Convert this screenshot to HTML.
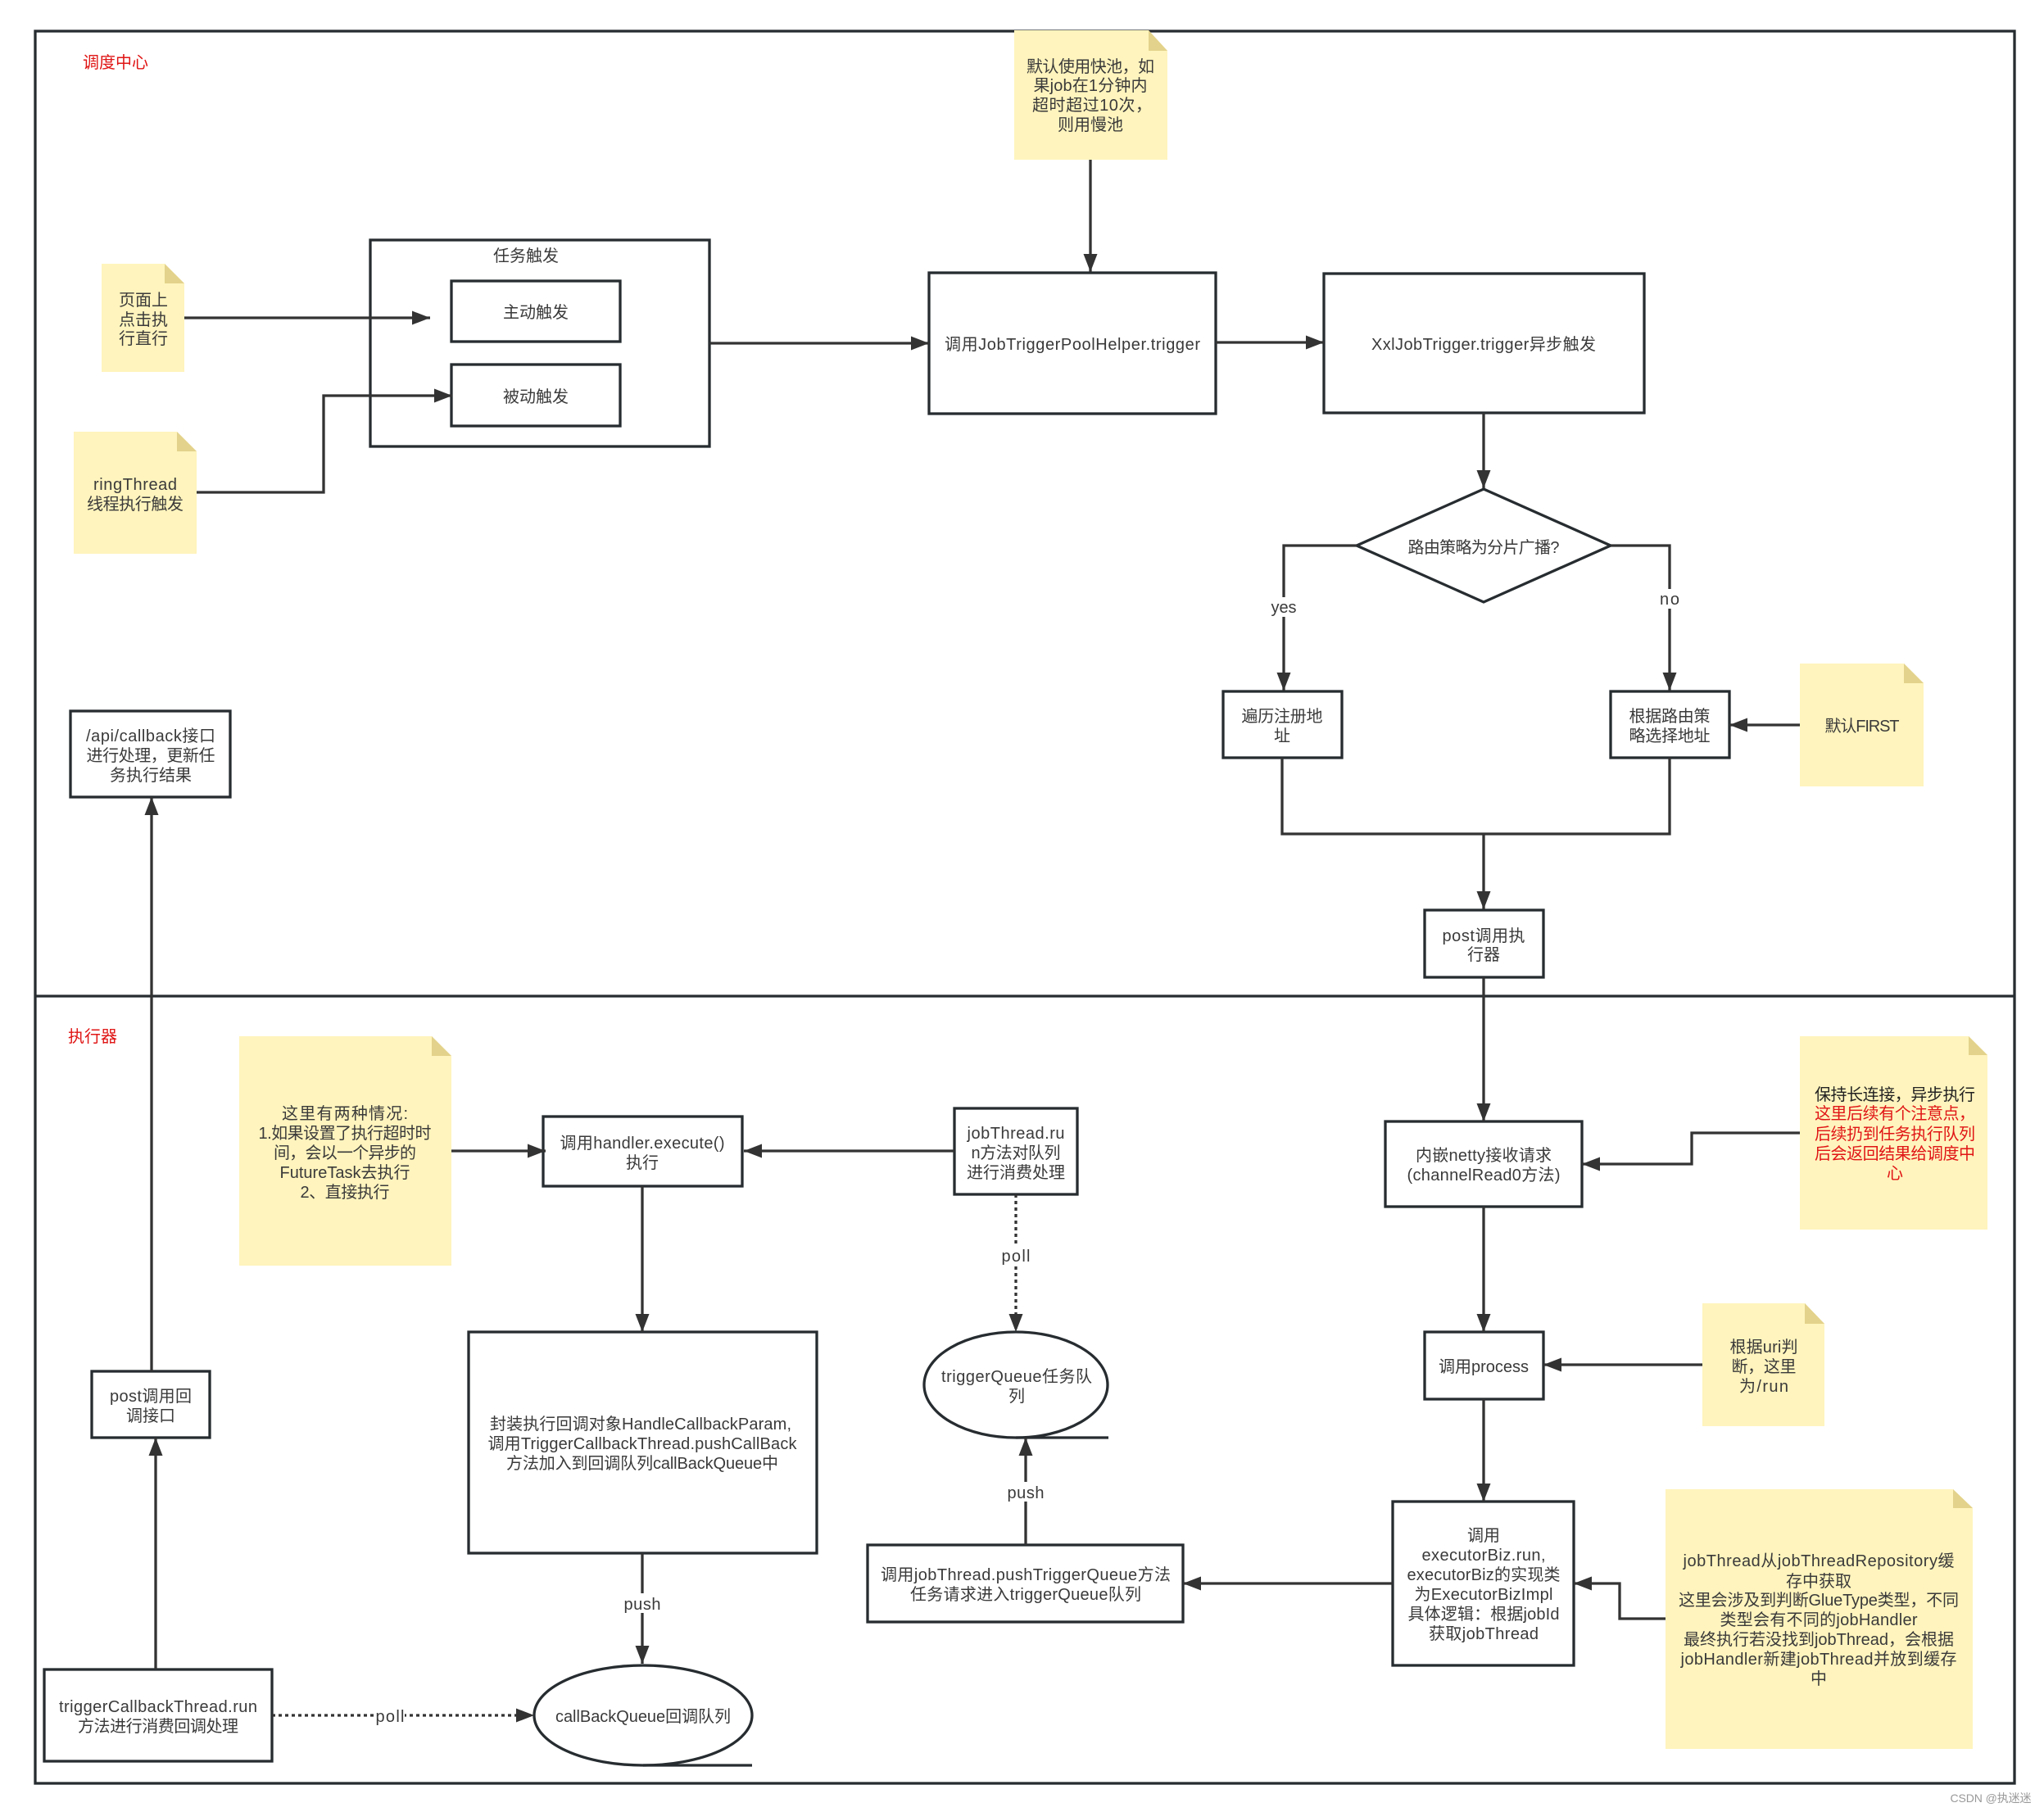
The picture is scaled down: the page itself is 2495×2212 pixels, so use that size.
<!DOCTYPE html>
<html><head><meta charset="utf-8"><style>
html,body{margin:0;padding:0;background:#fff}
svg{display:block}
text{font-family:"Liberation Sans","Noto Sans CJK SC",sans-serif;font-size:20px;fill:#3a3a3a;text-anchor:middle}
.b{fill:#fff;stroke:#262c30;stroke-width:3.3}
.n{fill:none;stroke:#262c30;stroke-width:3.3}
.c{fill:none;stroke:#333;stroke-width:3.3;marker-end:url(#a)}
.l{fill:none;stroke:#333;stroke-width:3.3}
.d{stroke-dasharray:4 4}
.note{fill:#fff4bd}
.fold{fill:#e3d28b}
.r{fill:#e01515}
.lb{fill:#fff}
</style></head><body>
<svg width="2495" height="2212" viewBox="0 0 2495 2212" xmlns="http://www.w3.org/2000/svg">
<defs><marker id="a" markerUnits="userSpaceOnUse" markerWidth="24" markerHeight="18" refX="22" refY="8.5" orient="auto"><path d="M0 0L22 8.5L0 17z" fill="#333"/></marker></defs>
<rect width="2495" height="2212" fill="#fff"/>

<rect class="n" x="43" y="38" width="2416" height="2139"/>
<path class="n" d="M43 1216H2459"/>

<!-- notes -->
<path class="note" d="M124 322H201L225 346V454H124z"/><path class="fold" d="M201 322L225 346H201z"/>
<path class="note" d="M90 527H216L240 551V676H90z"/><path class="fold" d="M216 527L240 551H216z"/>
<path class="note" d="M1238 37H1402L1425 62V195H1238z"/><path class="fold" d="M1402 37L1425 62H1402z"/>
<path class="note" d="M2197 810H2324L2348 834V960H2197z"/><path class="fold" d="M2324 810L2348 834H2324z"/>
<path class="note" d="M292 1265H527L551 1289V1545H292z"/><path class="fold" d="M527 1265L551 1289H527z"/>
<path class="note" d="M2197 1265H2403L2426 1288V1501H2197z"/><path class="fold" d="M2403 1265L2426 1288H2403z"/>
<path class="note" d="M2078 1591H2203L2227 1616V1741H2078z"/><path class="fold" d="M2203 1591L2227 1616H2203z"/>
<path class="note" d="M2033 1818H2384L2408 1841V2135H2033z"/><path class="fold" d="M2384 1818L2408 1841H2384z"/>

<!-- boxes -->
<rect class="b" x="452" y="293" width="414" height="252"/>
<rect class="b" x="551" y="343" width="206" height="74"/>
<rect class="b" x="551" y="445" width="206" height="75"/>
<rect class="b" x="1134" y="333" width="350" height="172"/>
<rect class="b" x="1616" y="334" width="391" height="170"/>
<path class="b" d="M1811 597L1966 666L1811 735L1656 666z"/>
<rect class="b" x="1493" y="844" width="145" height="81"/>
<rect class="b" x="1966" y="844" width="145" height="81"/>
<rect class="b" x="1739" y="1111" width="145" height="82"/>
<rect class="b" x="86" y="868" width="195" height="105"/>
<rect class="b" x="1691" y="1369" width="240" height="104"/>
<rect class="b" x="1739" y="1626" width="145" height="82"/>
<rect class="b" x="1700" y="1833" width="221" height="200"/>
<rect class="b" x="1059" y="1886" width="385" height="94"/>
<rect class="b" x="1165" y="1353" width="150" height="105"/>
<rect class="b" x="663" y="1363" width="243" height="85"/>
<rect class="b" x="572" y="1626" width="425" height="270"/>
<rect class="b" x="112" y="1674" width="144" height="81"/>
<rect class="b" x="54" y="2038" width="278" height="112"/>
<ellipse class="b" cx="1240" cy="1690.5" rx="112" ry="64.5"/>
<path class="n" d="M1240 1755H1353"/>
<ellipse class="b" cx="785" cy="2094" rx="133" ry="61"/>
<path class="n" d="M785 2155H918"/>

<!-- connectors -->
<path class="c" d="M225 388H525"/>
<path class="c" d="M240 601H395V483H552"/>
<path class="c" d="M866 419H1134"/>
<path class="c" d="M1331 195V332"/>
<path class="c" d="M1484 418H1616"/>
<path class="c" d="M1811 504V596"/>
<path class="c" d="M1656 666H1567V843"/>
<path class="c" d="M1966 666H2038V843"/>
<path class="c" d="M2197 885H2111"/>
<path class="l" d="M1565 925V1018H2038V925"/>
<path class="c" d="M1811 1018V1110"/>
<path class="c" d="M1811 1193V1369"/>
<path class="c" d="M2197 1383H2065V1421H1931"/>
<path class="c" d="M1811 1473V1626"/>
<path class="c" d="M2078 1666H1884"/>
<path class="c" d="M1811 1708V1833"/>
<path class="c" d="M2033 1976H1977V1933H1921"/>
<path class="c" d="M1700 1933H1444"/>
<path class="c" d="M1252 1886V1755"/>
<path class="c d" d="M1240 1458V1626"/>
<path class="c" d="M551 1405H666"/>
<path class="c" d="M1165 1405H908"/>
<path class="c" d="M784 1448V1626"/>
<path class="c" d="M784 1896V2031"/>
<path class="c d" d="M332 2094H652"/>
<path class="c" d="M190 2038V1755"/>
<path class="c" d="M185 1674V973"/>

<!-- connector labels -->
<rect class="lb" x="1551" y="729" width="32" height="24"/>
<rect class="lb" x="2024" y="719" width="28" height="24"/>
<rect class="lb" x="1222" y="1520" width="36" height="24"/>
<rect class="lb" x="1230" y="1809" width="44" height="24"/>
<rect class="lb" x="762" y="1945" width="44" height="24"/>
<rect class="lb" x="458" y="2082" width="36" height="24"/>
<text x="1567" y="748" textLength="31">yes</text>
<text x="2038" y="738" textLength="24">no</text>
<text x="1240" y="1540" textLength="35">poll</text>
<text x="1252" y="1829" textLength="45">push</text>
<text x="784" y="1965" textLength="45">push</text>
<text x="476" y="2102" textLength="35">poll</text>

<!-- labels -->
<text class="r" x="141" y="83">调度中心</text>
<text class="r" x="113" y="1272">执行器</text>
<text x="642" y="319">任务触发</text>
<text x="654" y="388">主动触发</text>
<text x="654" y="491">被动触发</text>
<text x="175" y="373">页面上</text><text x="175" y="397">点击执</text><text x="175" y="420">行直行</text>
<text x="165" y="598" textLength="102">ringThread</text><text x="165" y="622" textLength="118">线程执行触发</text>
<text x="1309" y="427" textLength="312">调用JobTriggerPoolHelper.trigger</text>
<text x="1331" y="88" textLength="156">默认使用快池，如</text><text x="1331" y="111" textLength="139">果job在1分钟内</text><text x="1333" y="135" textLength="146">超时超过10次，</text><text x="1331" y="159">则用慢池</text>
<text x="1811" y="427" textLength="274">XxlJobTrigger.trigger异步触发</text>
<text x="1811" y="675" textLength="185">路由策略为分片广播?</text>
<text x="1565" y="881" textLength="99">遍历注册地</text><text x="1565" y="905">址</text>
<text x="2038" y="881" textLength="99">根据路由策</text><text x="2038" y="905" textLength="99">略选择地址</text>
<text x="2273" y="893" textLength="91">默认FIRST</text>
<text x="1811" y="1149" textLength="101">post调用执</text><text x="1811" y="1172">行器</text>
<text x="184" y="905" textLength="158">/api/callback接口</text><text x="184" y="929" textLength="157">进行处理，更新任</text><text x="184" y="953">务执行结果</text>
<text x="1811" y="1417" textLength="166">内嵌netty接收请求</text><text x="1811" y="1441" textLength="187">(channelRead0方法)</text>
<text style="fill:#222" x="2313" y="1343" textLength="196">保持长连接，异步执行</text>
<text class="r" x="2313" y="1366" textLength="196">这里后续有个注意点，</text><text class="r" x="2313" y="1391" textLength="196">后续扔到任务执行队列</text><text class="r" x="2313" y="1415" textLength="196">后会返回结果给调度中</text><text class="r" x="2313" y="1439">心</text>
<text x="1811" y="1675" textLength="110">调用process</text>
<text x="2153" y="1651" textLength="83">根据uri判</text><text x="2153" y="1675" textLength="79">断，这里</text><text x="2153" y="1699" textLength="60">为/run</text>
<text x="1811" y="1881">调用</text><text x="1811" y="1905" textLength="151">executorBiz.run,</text><text x="1811" y="1929" textLength="187">executorBiz的实现类</text><text x="1811" y="1953" textLength="169">为ExecutorBizImpl</text><text x="1811" y="1977" textLength="185">具体逻辑：根据jobId</text><text x="1811" y="2001" textLength="134">获取jobThread</text>
<text x="2220" y="1912" textLength="331">jobThread从jobThreadRepository缓</text><text x="2220" y="1937">存中获取</text><text x="2220" y="1960" textLength="342">这里会涉及到判断GlueType类型，不同</text><text x="2220" y="1984" textLength="241">类型会有不同的jobHandler</text><text x="2220" y="2008" textLength="330">最终执行若没找到jobThread，会根据</text><text x="2220" y="2032" textLength="337">jobHandler新建jobThread并放到缓存</text><text x="2220" y="2056">中</text>
<text x="1252" y="1929" textLength="354">调用jobThread.pushTriggerQueue方法</text><text x="1252" y="1953" textLength="282">任务请求进入triggerQueue队列</text>
<text x="1241" y="1687" textLength="184">triggerQueue任务队</text><text x="1241" y="1711">列</text>
<text x="1240" y="1390" textLength="119">jobThread.ru</text><text x="1240" y="1414" textLength="109">n方法对队列</text><text x="1240" y="1438">进行消费处理</text>
<text x="421" y="1366" textLength="154">这里有两种情况:</text><text x="421" y="1390" textLength="211">1.如果设置了执行超时时</text><text x="421" y="1414" textLength="174">间，会以一个异步的</text><text x="421" y="1438" textLength="159">FutureTask去执行</text><text x="421" y="1462" textLength="109">2、直接执行</text>
<text x="784" y="1402" textLength="201">调用handler.execute()</text><text x="784" y="1426">执行</text>
<text x="782" y="1745" textLength="368">封装执行回调对象HandleCallbackParam,</text><text x="784" y="1769" textLength="377">调用TriggerCallbackThread.pushCallBack</text><text x="784" y="1793" textLength="332">方法加入到回调队列callBackQueue中</text>
<text x="184" y="1711" textLength="100">post调用回</text><text x="184" y="1735">调接口</text>
<text x="193" y="2090" textLength="242">triggerCallbackThread.run</text><text x="193" y="2114" textLength="196">方法进行消费回调处理</text>
<text x="785" y="2102" textLength="214">callBackQueue回调队列</text>
<text style="fill:#999;font-size:14px" x="2430" y="2200" textLength="99">CSDN @执迷迷</text>
</svg>
</body></html>
